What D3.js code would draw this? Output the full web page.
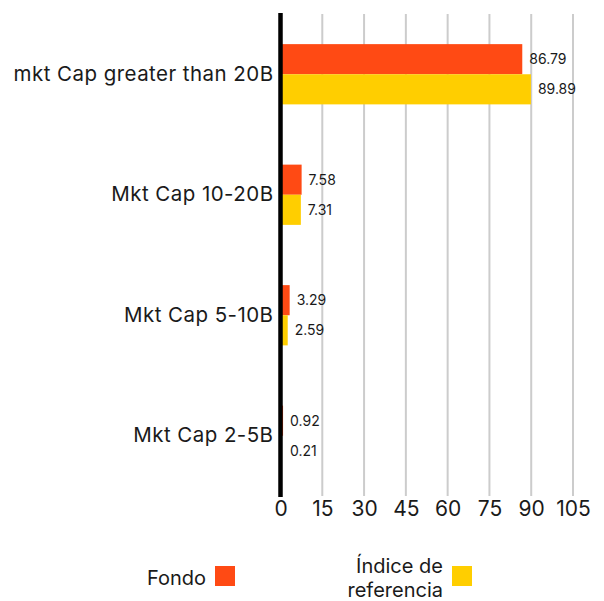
<!DOCTYPE html>
<html>
<head>
<meta charset="utf-8">
<script src="https://cdn.jsdelivr.net/npm/d3@7"></script>
<style>
  body { margin: 0; background: #fff; }
  text { font-family: Inter, sans-serif; fill: #1a1a1a; }
</style>
</head>
<body>
<div id="chart"></div>
<script>
// data
var categories = ["mkt Cap greater than 20B", "Mkt Cap 10-20B", "Mkt Cap 5-10B", "Mkt Cap 2-5B"];
var seriesNames = ["Fondo", "Índice de referencia"];
var fondo = [86.79, 7.58, 3.29, 0.92];
var indice = [89.89, 7.31, 2.59, 0.21];
var tickValues = [0, 15, 30, 45, 60, 75, 90, 105];
var colors = ["#ff4a14", "#ffce00"];

var width = 604, height = 601;
var margin = {top: 14, right: 31, bottom: 105, left: 280.5};
var innerW = width - margin.left - margin.right,
  innerH = height - margin.top - margin.bottom;

var svg = d3.select("#chart")
  .append("svg")
  .attr("width", width)
  .attr("height", height);

var g = svg.append("g")
  .attr("transform", "translate(" + margin.left + "," + margin.top + ")");

// scales
var x = d3.scaleLinear().domain([0, 105]).range([0, innerW]);
var y0 = d3.scaleBand().domain(categories).range([0, innerH])
  .paddingInner(0.5).paddingOuter(0.25);
var y1 = d3.scaleBand().domain(seriesNames).range([0, y0.bandwidth()]);

// gridlines
g.append("g")
  .attr("class", "grid")
  .selectAll("line")
  .data(tickValues.slice(1))
  .join("line")
    .attr("x1", d => x(d)).attr("x2", d => x(d))
    .attr("y1", 0).attr("y2", innerH)
    .attr("stroke", "#cccccc")
    .attr("stroke-width", 2);

// bars
var rows = categories.map((c, i) => ({cat: c, values: [fondo[i], indice[i]]}));
var groups = g.selectAll(".grp")
  .data(rows)
  .join("g")
    .attr("class", "grp")
    .attr("transform", d => "translate(0," + y0(d.cat) + ")");

groups.selectAll("rect")
  .data(d => d.values.map((v, j) => ({name: seriesNames[j], value: v, j: j})))
  .join("rect")
    .attr("x", 0)
    .attr("y", d => y1(d.name))
    .attr("width", d => x(d.value))
    .attr("height", y1.bandwidth())
    .attr("fill", d => colors[d.j]);

groups.selectAll(".val")
  .data(d => d.values.map((v, j) => ({name: seriesNames[j], value: v})))
  .join("text")
    .attr("class", "val")
    .attr("x", d => Math.max(x(d.value), 2.5) + 7)
    .attr("y", d => y1(d.name) + y1.bandwidth() / 2)
    .attr("dy", "0.35em")
    .style("font-size", "14px")
    .text(d => d3.format(".2f")(d.value));

// y axis (category labels + thick line)
var yAxis = g.append("g").call(d3.axisLeft(y0).tickSize(0).tickPadding(7));
yAxis.select(".domain").remove();
yAxis.selectAll("text")
  .style("font-size", "20.5px")
  .style("letter-spacing", "0.45px")
  .style("font-family", "Inter, sans-serif")
  .attr("fill", "#1a1a1a");

g.append("line")
  .attr("x1", 0).attr("x2", 0)
  .attr("y1", -1).attr("y2", innerH + 1)
  .attr("stroke", "#000")
  .attr("stroke-width", 4.5);

// x axis
var xAxis = g.append("g")
  .attr("transform", "translate(0," + innerH + ")")
  .call(d3.axisBottom(x).tickValues(tickValues).tickSize(0).tickPadding(5));
xAxis.select(".domain").remove();
xAxis.selectAll("text")
  .style("font-size", "21px")
  .style("font-family", "Inter, sans-serif")
  .attr("fill", "#1a1a1a");

// legend
var legend = svg.append("g").attr("class", "legend");
var legendItems = [
  {lines: ["Fondo"], color: colors[0], sx: 215},
  {lines: ["Índice de", "referencia"], color: colors[1], sx: 452}
];
legendItems.forEach(function(item) {
  legend.append("rect")
    .attr("x", item.sx).attr("y", 566)
    .attr("width", 20).attr("height", 20)
    .attr("fill", item.color);
  var t = legend.append("text")
    .attr("text-anchor", "end")
    .style("font-size", "20px");
  var n = item.lines.length;
  item.lines.forEach(function(l, k) {
    t.append("tspan")
      .attr("x", item.sx - 9)
      .attr("y", 578 + (k - (n - 1) / 2) * 24)
      .attr("dy", "0.35em")
      .text(l);
  });
});
</script>
</body>
</html>
